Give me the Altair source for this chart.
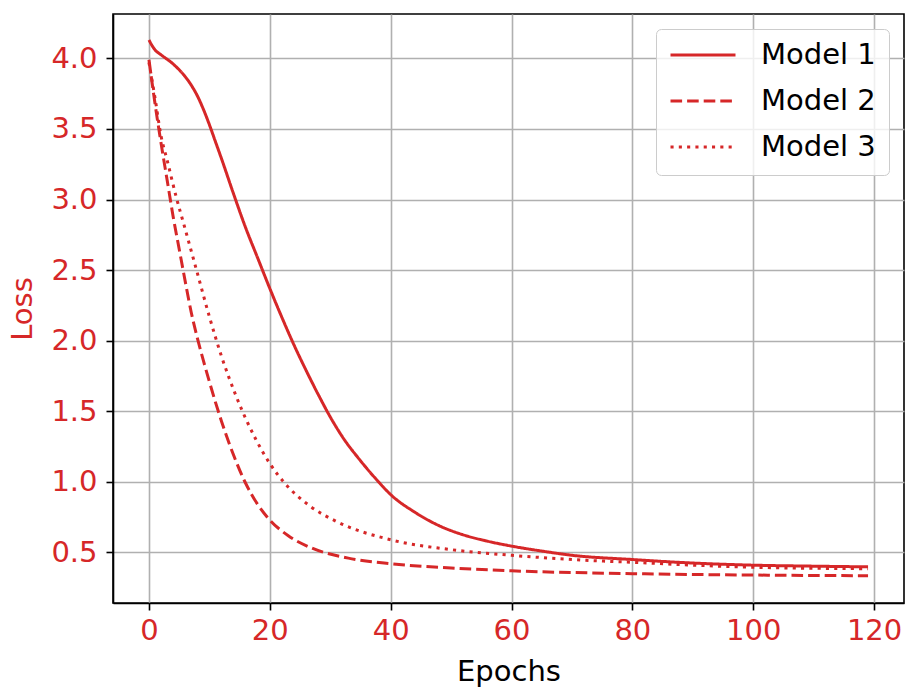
import altair as alt
import pandas as pd

RED = "#d62728"
FONT = "DejaVu Sans"

models = ["Model 1", "Model 2", "Model 3"]

epochs_m1 = [0, 1, 2, 4, 6, 7, 8, 9, 10, 11, 12, 14, 16, 18, 20, 22, 24, 26, 28, 30, 32, 35, 38, 40, 44, 48, 52, 56, 60, 65, 70, 80, 90, 100, 110, 119]
loss_m1 = [4.13, 4.06, 4.025, 3.96, 3.87, 3.81, 3.735, 3.64, 3.53, 3.41, 3.29, 3.04, 2.80, 2.585, 2.37, 2.165, 1.97, 1.79, 1.62, 1.46, 1.32, 1.15, 1.00, 0.91, 0.785, 0.69, 0.625, 0.58, 0.545, 0.51, 0.48, 0.45, 0.425, 0.41, 0.403, 0.398]

epochs_m2 = [0, 1, 2, 3, 4, 5, 6, 7, 8, 9, 10, 11, 12, 14, 16, 18, 20, 23, 27, 33, 40, 50, 60, 80, 100, 119]
loss_m2 = [3.99, 3.68, 3.40, 3.14, 2.88, 2.65, 2.42, 2.20, 2.02, 1.86, 1.71, 1.565, 1.43, 1.19, 0.99, 0.84, 0.73, 0.62, 0.53, 0.46, 0.42, 0.39, 0.37, 0.35, 0.34, 0.335]

epochs_m3 = [0, 1, 2, 3, 4.5, 6, 8, 10, 12, 14.4, 17.7, 20, 22.7, 26.6, 31, 40, 50, 60, 70, 80, 100, 119]
loss_m3 = [3.97, 3.72, 3.45, 3.28, 3.02, 2.79, 2.48, 2.17, 1.89, 1.61, 1.30, 1.13, 0.98, 0.83, 0.72, 0.59, 0.52, 0.48, 0.45, 0.43, 0.395, 0.385]

x_ticks = [0, 20, 40, 60, 80, 100, 120]
y_ticks = [0.5, 1.0, 1.5, 2.0, 2.5, 3.0, 3.5, 4.0]

rows = []
for name, ep, ls in zip(models, [epochs_m1, epochs_m2, epochs_m3], [loss_m1, loss_m2, loss_m3]):
    for e, v in zip(ep, ls):
        rows.append({"epoch": e, "loss": v, "model": name})
df = pd.DataFrame(rows)

chart = alt.Chart(df).mark_line(
    color=RED, strokeWidth=3, interpolate="monotone", clip=True, strokeCap="butt"
).encode(
    x=alt.X(
        "epoch:Q",
        scale=alt.Scale(domain=[-5.95, 124.95], nice=False, zero=False),
        axis=alt.Axis(
            values=x_ticks, title="Epochs", format="d",
            labelColor=RED, titleColor="black",
            labelFontSize=29, titleFontSize=29, labelFont=FONT, titleFont=FONT,
            titleFontWeight="normal", labelPadding=6, titlePadding=12,
            tickSize=7, tickWidth=1.6, tickColor="black",
            domainColor="black", domainWidth=1.6,
            grid=True, gridColor="#b0b0b0", gridWidth=1.6,
        ),
    ),
    y=alt.Y(
        "loss:Q",
        scale=alt.Scale(domain=[0.142, 4.314], nice=False, zero=False),
        axis=alt.Axis(
            values=y_ticks, title="Loss", format=".1f",
            labelColor=RED, titleColor=RED,
            labelFontSize=29, titleFontSize=29, labelFont=FONT, titleFont=FONT,
            titleFontWeight="normal", labelPadding=9, titlePadding=13,
            tickSize=7, tickWidth=1.6, tickColor="black",
            domainColor="black", domainWidth=1.6,
            grid=True, gridColor="#b0b0b0", gridWidth=1.6,
        ),
    ),
    strokeDash=alt.StrokeDash(
        "model:N",
        scale=alt.Scale(domain=models, range=[[1, 0], [11.6, 5], [3.1, 5.2]]),
        legend=alt.Legend(
            title=None, orient="top-right", offset=15,
            symbolType="stroke", symbolSize=4225, symbolStrokeWidth=3,
            symbolStrokeColor=RED,
            labelFontSize=29, labelFont=FONT, labelColor="black",
            labelOffset=24, rowPadding=17, padding=13, clipHeight=26,
            strokeColor="#cccccc", fillColor="rgba(255,255,255,0.8)",
            cornerRadius=5,
        ),
    ),
).properties(
    width=791, height=589,
    padding={"left": 113, "top": 14, "right": 2, "bottom": 85},
    autosize="none",
).configure_view(
    stroke="black", strokeWidth=1.6
)

chart.save("out.html", embed_options={"renderer": "svg", "actions": False})
